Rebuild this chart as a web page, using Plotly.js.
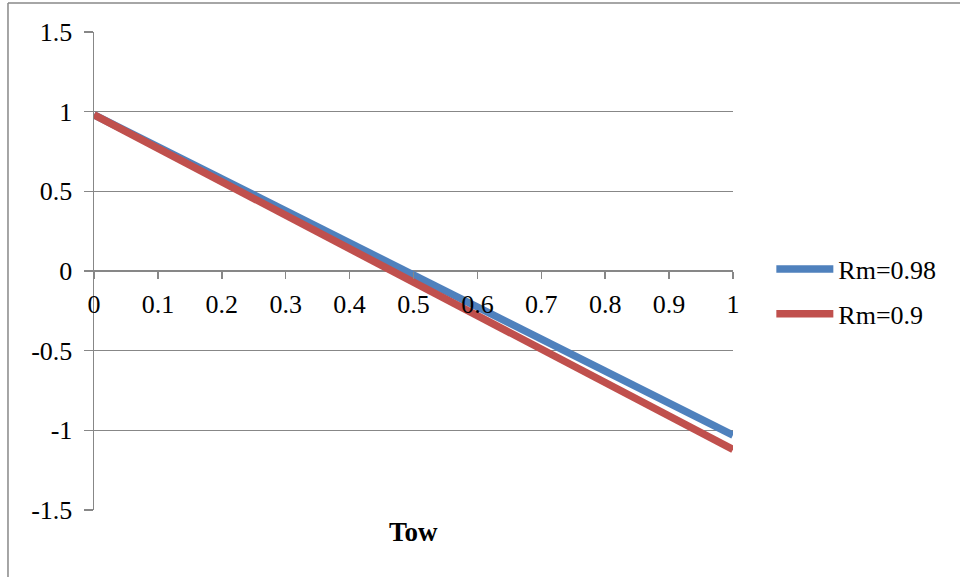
<!DOCTYPE html>
<html>
<head>
<meta charset="utf-8">
<script src="https://cdn.plot.ly/plotly-3.0.1.min.js"></script>
<style>
html,body{margin:0;padding:0;background:#fff;}
#chart{width:960px;height:577px;}
</style>
</head>
<body>
<div id="chart"></div>
<script>
const tow = [0, 0.1, 0.2, 0.3, 0.4, 0.5, 0.6, 0.7, 0.8, 0.9, 1];
const rm098 = [0.98, 0.78, 0.58, 0.38, 0.18, -0.03, -0.23, -0.43, -0.63, -0.83, -1.03];
const rm09 = [0.98, 0.77, 0.56, 0.35, 0.14, -0.07, -0.28, -0.49, -0.70, -0.91, -1.12];
const seriesNames = ['Rm=0.98', 'Rm=0.9'];
const xTitle = 'Tow';
const xTickVals = [0, 0.1, 0.2, 0.3, 0.4, 0.5, 0.6, 0.7, 0.8, 0.9, 1];
const xTickText = ['0', '0.1', '0.2', '0.3', '0.4', '0.5', '0.6', '0.7', '0.8', '0.9', '1'];
const yTickVals = [-1.5, -1, -0.5, 0, 0.5, 1, 1.5];
const yTickText = ['-1.5', '-1', '-0.5', '0', '0.5', '1', '1.5'];

const FONT = '"Liberation Serif", "DejaVu Serif", serif';

const traces = [
  {x: tow, y: rm098, name: seriesNames[0], mode: 'lines', legendgroup: 'a',
   line: {color: '#4F81BD', width: 7.5}},
  {x: tow, y: rm09, name: seriesNames[1], mode: 'lines', legendgroup: 'b',
   line: {color: '#C0504D', width: 7.5}}
];

const layout = {
  width: 960, height: 577,
  margin: {l: 94, r: 227, t: 32, b: 67},
  paper_bgcolor: '#fff', plot_bgcolor: '#fff',
  font: {family: FONT, size: 26, color: '#000'},
  showlegend: true,
  legend: {x: 1.06, y: 0.457, xanchor: 'left', yanchor: 'middle',
           traceorder: 'grouped', tracegroupgap: 8, itemwidth: 57,
           font: {family: FONT, size: 26, color: '#000'}},
  xaxis: {range: [0, 1], tickvals: xTickVals, ticktext: xTickText, showgrid: false, zeroline: false,
          anchor: 'free', position: 0.5, showline: false,
          ticks: 'outside', ticklen: 7, tickcolor: '#878787', tickwidth: 1.5,
          ticklabelstandoff: 3,
          tickfont: {family: FONT, size: 26}},
  yaxis: {range: [-1.5, 1.5], tickvals: yTickVals, ticktext: yTickText,
          showgrid: true, gridcolor: '#878787', gridwidth: 1.5,
          zeroline: true, zerolinecolor: '#878787', zerolinewidth: 1.5,
          showline: true, linecolor: '#878787', linewidth: 1.5,
          ticks: 'outside', ticklen: 9, tickcolor: '#878787', tickwidth: 1.5,
          ticklabelstandoff: 6,
          tickfont: {family: FONT, size: 26}},
  annotations: [{text: '<b>' + xTitle + '</b>', xref: 'paper', yref: 'paper',
                 x: 0.5, y: -0.01, xanchor: 'center', yanchor: 'top', showarrow: false,
                 font: {family: FONT, size: 27, color: '#000'}}],
  shapes: [
    {type: 'line', xref: 'paper', yref: 'paper', x0: -0.1346, x1: 1.5, y0: 1.0607, y1: 1.0607,
     line: {color: '#888', width: 1.5}},
    {type: 'line', xref: 'paper', yref: 'paper', x0: -0.1346, x1: -0.1346, y0: 1.0607, y1: -0.2,
     line: {color: '#888', width: 1.5}}
  ]
};

Plotly.newPlot('chart', traces, layout, {displayModeBar: false, staticPlot: true});
</script>
</body>
</html>
